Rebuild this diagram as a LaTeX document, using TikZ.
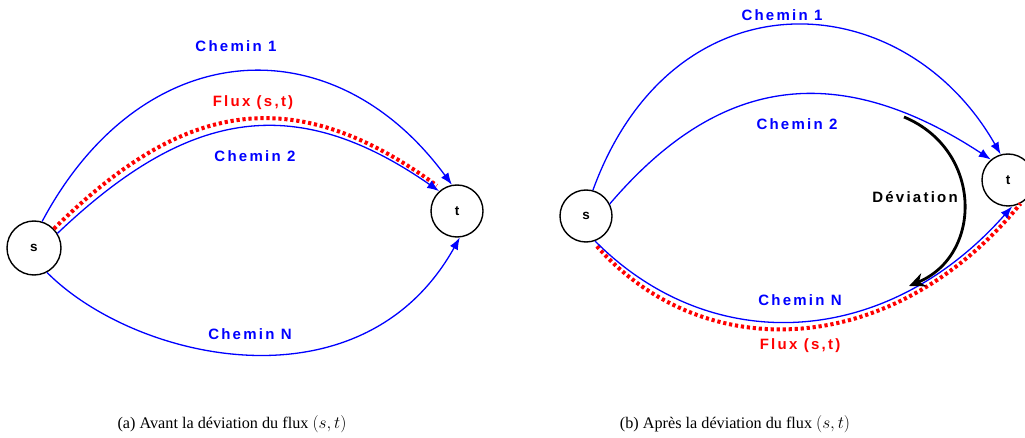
\documentclass[tikz,border=0pt]{standalone}
\usepackage{fontspec}
\setmainfont{Liberation Serif}
\newfontfamily\labfont{Liberation Sans}[LetterSpace=15]
\usetikzlibrary{arrows.meta}
\definecolor{pblue}{RGB}{0,0,255}
\definecolor{pred}{RGB}{255,0,0}
\begin{document}
\begin{tikzpicture}[x=1pt,y=-1pt,
  vertex/.style={circle,draw=black,line width=1.4pt,minimum size=52pt,inner sep=0pt,font=\labfont\bfseries\fontsize{13.5}{15}\selectfont},
  route/.style={draw=pblue,line width=1.3pt,-{Latex[length=12pt,width=9pt]}},
  flux/.style={draw=pred,line width=4pt,dash pattern=on 3.2pt off 2.8pt},
  lab/.style={font=\labfont\bfseries\fontsize{15}{17}\selectfont,text=pblue,inner sep=0pt},
  fluxlab/.style={lab,text=pred},
  devarrow/.style={draw=black,line width=2.8pt,-{Stealth[length=16pt,width=14pt]}},
  captext/.style={font=\fontsize{16.2}{19}\selectfont,inner sep=0pt}]
\useasboundingbox (0,0) rectangle (1025,438);

% ---------- (a) ----------
\node[vertex,minimum size=54pt] (s1) at (34,248) {s};
\node[vertex] (t1) at (457,211) {t};

\draw[flux,shorten >=6pt] (s1.44) .. controls (180,104) and (290,78) .. (t1.125);
\draw[route] (s1.73) .. controls (142,34) and (333,23) .. (t1.101);
\draw[route] (s1.32) .. controls (184,113) and (291,88) .. (t1.132);
\draw[route] (s1.-62) .. controls (135,361) and (362,413) .. (t1.-84);

\node[lab] (c1a) at (236,46) {Chemin 1};
\node[fluxlab] (fa) at (253,103) {Flux (s,t)};
\node[lab] (c2a) at (255,156) {Chemin 2};
\node[lab] (cNa) at (250,334) {Chemin N};

\node[captext] (capa) at (232,424) {(a) Avant la déviation du flux $(s,t)$};

% ---------- (b) ----------
\node[vertex] (s2) at (586,216) {s};
\node[vertex] (t2) at (1008,180) {t};

\draw[flux,shorten <=6pt] (s2.-75) .. controls (705,368) and (895,358) .. (t2.-62);
\draw[route] (s2.75) .. controls (673,-30) and (903,-17) .. (t2.106);
\draw[route] (s2.27) .. controls (703,95) and (818,46) .. (t2.130);
\draw[route] (s2.-70) .. controls (711,358) and (886,349) .. (t2.-81);

\coordinate (d1) at (904,117);
\coordinate (d2) at (909,286);
\draw[devarrow] (d1) .. controls (983,150) and (983,255) .. (d2);
\node[lab,text=black,anchor=east] (dev) at (958,197) {Déviation};

\node[lab] (c1b) at (782,15) {Chemin 1};
\node[lab] (c2b) at (797,124) {Chemin 2};
\node[lab] (cNb) at (800,300) {Chemin N};
\node[fluxlab] (fb) at (800,346) {Flux (s,t)};

\node[captext] (capb) at (735,424) {(b) Après la déviation du flux $(s,t)$};
\end{tikzpicture}
\end{document}
